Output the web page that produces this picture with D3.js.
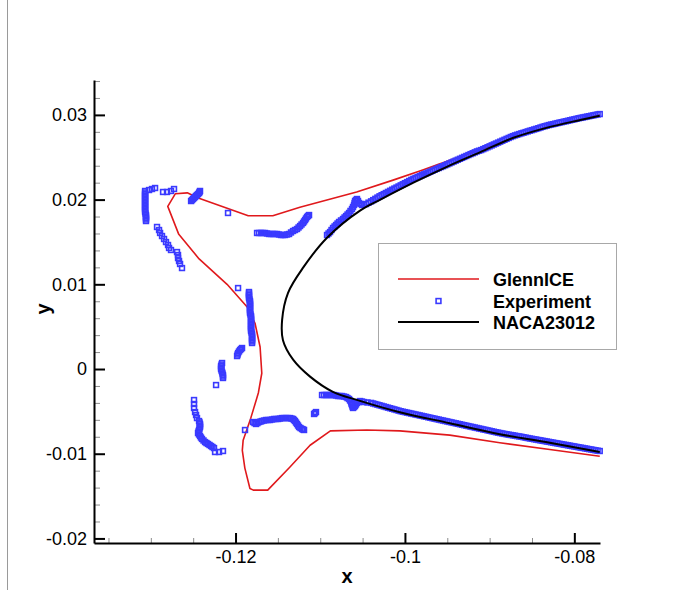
<!DOCTYPE html>
<html><head><meta charset="utf-8">
<script src="https://cdn.jsdelivr.net/npm/d3@7"></script>
<style>
body{margin:0;background:#fff}
svg{display:block}
text{font-family:"Liberation Sans",Arial,Helvetica,sans-serif}
</style>
</head><body>
<svg id="chart" width="674" height="605"></svg>
<script>
// ---------- data ----------
const xMajorTicks = [-0.12, -0.1, -0.08];
const xTickLabels = ["-0.12", "-0.1", "-0.08"];
const xMinorTicks = [-0.135, -0.13, -0.125, -0.115, -0.11, -0.105, -0.095, -0.09, -0.085];
const yMajorTicks = [-0.02, -0.01, 0, 0.01, 0.02, 0.03];
const yTickLabels = ["-0.02", "-0.01", "0", "0.01", "0.02", "0.03"];
const yMinorTicks = [-0.018, -0.016, -0.014, -0.012, -0.008, -0.006, -0.004, -0.002, 0.002, 0.004, 0.006, 0.008,
  0.012, 0.014, 0.016, 0.018, 0.022, 0.024, 0.026, 0.028, 0.032, 0.034];
const seriesNames = ["GlennICE", "Experiment", "NACA23012"];

const glennICE = [[-0.0770,0.0300],[-0.0832,0.0286],[-0.0911,0.0259],[-0.0962,0.0241],[-0.0979,0.0235],[-0.1014,0.0223],
  [-0.1057,0.0209],[-0.1124,0.0191],[-0.1156,0.0181],[-0.1185,0.0181],[-0.1244,0.0202],[-0.1257,0.0208],[-0.1271,0.0207],
  [-0.1280,0.0192],[-0.1267,0.0159],[-0.1243,0.0130],[-0.1210,0.0100],[-0.1186,0.0073],[-0.1177,0.0054],[-0.1171,0.0026],
  [-0.1169,-0.0005],[-0.1173,-0.0028],[-0.1182,-0.0058],[-0.1191,-0.0084],[-0.1192,-0.0096],[-0.1189,-0.0117],
  [-0.1183,-0.0141],[-0.1179,-0.0143],[-0.1162,-0.0143],[-0.1136,-0.0116],[-0.1112,-0.0090],[-0.1088,-0.0073],
  [-0.1045,-0.0072],[-0.1006,-0.0073],[-0.0947,-0.0078],[-0.0888,-0.0087],[-0.0829,-0.0095],[-0.0770,-0.0103]];

const naca23012 = [[-0.0770,0.0299],[-0.0793,0.0294],[-0.0832,0.0285],[-0.0872,0.0273],[-0.0911,0.0256],[-0.0950,0.0239],
  [-0.0990,0.0220],[-0.1029,0.0200],[-0.1053,0.0187],[-0.1092,0.0155],[-0.1120,0.0120],[-0.1138,0.0090],[-0.1145,0.0058],
  [-0.1144,0.0034],[-0.1132,0.0011],[-0.1112,-0.0009],[-0.1085,-0.0027],[-0.1055,-0.0037],[-0.1006,-0.0051],
  [-0.0947,-0.0064],[-0.0888,-0.0077],[-0.0829,-0.0087],[-0.0770,-0.0098]];

const experiment = [
  // upper-left horn
  [-0.13068,0.02102],[-0.13068,0.02066],[-0.13068,0.02031],[-0.13068,0.01995],[-0.13068,0.0196],[-0.13068,0.01924],
  [-0.13068,0.01889],[-0.13068,0.01854],[-0.13057,0.01818],[-0.13057,0.01783],[-0.13057,0.01747],
  [-0.13068,0.02084],[-0.13068,0.02049],[-0.13068,0.02013],[-0.13068,0.01978],[-0.13068,0.01942],[-0.13068,0.01907],
  [-0.13068,0.01872],[-0.13063,0.01836],[-0.13057,0.018],[-0.13057,0.01765],
  [-0.13021,0.02113],[-0.12986,0.02125],[-0.1295,0.02137],[-0.12856,0.0209],[-0.12809,0.0209],[-0.12762,0.02102],[-0.12726,0.02125],
  [-0.12927,0.01677],[-0.12903,0.01641],[-0.12891,0.01606],[-0.12868,0.0157],[-0.12844,0.01535],[-0.12821,0.01499],
  [-0.12797,0.01464],[-0.12785,0.01429],[-0.12762,0.01405],
  [-0.12691,0.01381],[-0.12679,0.01346],[-0.12679,0.0131],[-0.12667,0.01275],[-0.12655,0.0124],[-0.12632,0.01192],
  [-0.12525,0.01983],[-0.12502,0.02007],[-0.12478,0.02031],[-0.12455,0.02054],[-0.12431,0.02078],[-0.12419,0.02102],
  [-0.12514,0.01995],[-0.1249,0.02019],[-0.12467,0.02043],[-0.12443,0.02066],[-0.12425,0.0209],
  [-0.12089,0.01842],
  // upper middle band
  [-0.11746,0.01606],[-0.11699,0.01606],[-0.11652,0.01606],[-0.11604,0.01594],[-0.11557,0.01594],[-0.1151,0.01594],
  [-0.11463,0.01582],[-0.11416,0.01582],[-0.11368,0.01594],[-0.11321,0.01629],[-0.11274,0.01653],[-0.11238,0.01688],
  [-0.11203,0.01724],[-0.11179,0.01759],[-0.11156,0.01795],[-0.11132,0.01818],
  [-0.11723,0.01606],[-0.11676,0.01606],[-0.11628,0.016],[-0.11581,0.01594],[-0.11534,0.01594],[-0.11487,0.01588],
  [-0.1144,0.01582],[-0.11392,0.01588],[-0.11345,0.01612],[-0.11298,0.01641],[-0.11256,0.01671],[-0.11221,0.01706],
  [-0.11191,0.01742],[-0.11168,0.01777],[-0.11144,0.01807],
  // upper surface
  [-0.1092,0.01582],[-0.10884,0.01617],[-0.10849,0.01665],[-0.10813,0.017],[-0.10778,0.01736],[-0.10731,0.01771],
  [-0.10695,0.01806],[-0.1066,0.01842],[-0.10625,0.01889],[-0.10601,0.01936],[-0.10589,0.01983],[-0.10566,0.02007],
  [-0.10542,0.0196],[-0.10506,0.01936],[-0.10459,0.01948],
  [-0.10902,0.016],[-0.10867,0.01641],[-0.10831,0.01683],[-0.10796,0.01718],[-0.10755,0.01754],[-0.10713,0.01789],
  [-0.10678,0.01824],[-0.10643,0.01866],[-0.10613,0.01913],[-0.10595,0.0196],[-0.10578,0.01995],[-0.10554,0.01984],
  [-0.10524,0.01948],[-0.10483,0.01942],[-0.1043,0.01964],
  [-0.1040,0.01979],[-0.1035,0.02009],[-0.1030,0.02039],[-0.1025,0.02065],[-0.1020,0.02091],[-0.1015,0.02117],
  [-0.1010,0.02142],[-0.1005,0.02168],[-0.1000,0.02194],[-0.0995,0.02220],[-0.0990,0.02245],[-0.0985,0.02266],
  [-0.0980,0.02288],[-0.0975,0.02309],[-0.0970,0.02330],[-0.0965,0.02352],[-0.0960,0.02373],[-0.0955,0.02394],
  [-0.0950,0.02416],[-0.0945,0.02438],[-0.0940,0.02460],[-0.0935,0.02482],[-0.0930,0.02504],[-0.0925,0.02526],
  [-0.0920,0.02547],[-0.0915,0.02569],[-0.0910,0.02585],[-0.0905,0.02607],[-0.0900,0.02629],[-0.0895,0.02651],
  [-0.0890,0.02673],[-0.0885,0.02695],[-0.0880,0.02717],[-0.0875,0.02739],[-0.0870,0.02758],[-0.0865,0.02774],
  [-0.0860,0.02789],[-0.0855,0.02805],[-0.0850,0.02820],[-0.0845,0.02835],[-0.0840,0.02851],[-0.0835,0.02866],
  [-0.0830,0.02880],[-0.0825,0.02891],[-0.0820,0.02903],[-0.0815,0.02914],[-0.0810,0.02925],[-0.0805,0.02937],
  [-0.0800,0.02948],[-0.0795,0.02960],[-0.0790,0.02970],[-0.0785,0.02980],[-0.0780,0.02990],[-0.0775,0.03000],[-0.0770,0.03010],
  [-0.10375,0.01994],[-0.10325,0.02024],[-0.10275,0.02052],[-0.10225,0.02078],[-0.10175,0.02104],[-0.10125,0.0213],
  [-0.10075,0.02155],[-0.10025,0.02181],[-0.09975,0.02207],[-0.09925,0.02233],[-0.09875,0.02256],[-0.09825,0.02277],
  [-0.09775,0.02299],[-0.09725,0.0232],[-0.09675,0.02341],[-0.09625,0.02363],[-0.09575,0.02384],[-0.09525,0.02405],
  [-0.09475,0.02427],[-0.09425,0.02449],[-0.09375,0.02471],[-0.09325,0.02493],[-0.09275,0.02515],[-0.09225,0.02537],
  [-0.09175,0.02558],[-0.09125,0.02577],[-0.09075,0.02596],[-0.09025,0.02618],[-0.08975,0.0264],[-0.08925,0.02662],
  [-0.08875,0.02684],[-0.08825,0.02706],[-0.08775,0.02728],[-0.08725,0.02749],[-0.08675,0.02766],[-0.08625,0.02782],
  [-0.08575,0.02797],[-0.08525,0.02813],[-0.08475,0.02828],[-0.08425,0.02843],[-0.08375,0.02859],[-0.08325,0.02873],
  [-0.08275,0.02886],[-0.08225,0.02897],[-0.08175,0.02909],[-0.08125,0.0292],[-0.08075,0.02931],[-0.08025,0.02943],
  [-0.07975,0.02954],[-0.07925,0.02965],[-0.07875,0.02975],[-0.07825,0.02985],[-0.07775,0.02995],[-0.07725,0.03005],
  // middle left
  [-0.1197,0.00956],
  [-0.11841,0.00909],[-0.11841,0.00874],[-0.11841,0.00838],[-0.11829,0.00803],[-0.11829,0.00767],[-0.11829,0.00732],
  [-0.11829,0.00697],[-0.11829,0.00661],[-0.11817,0.00626],[-0.11817,0.0059],[-0.11817,0.00555],[-0.11817,0.00519],
  [-0.11817,0.00484],[-0.11817,0.00449],[-0.11805,0.00413],[-0.11805,0.00378],[-0.11805,0.00342],[-0.11805,0.00307],
  [-0.11841,0.00892],[-0.11841,0.00856],[-0.11835,0.00821],[-0.11829,0.00785],[-0.11829,0.0075],[-0.11829,0.00715],
  [-0.11829,0.00679],[-0.11823,0.00644],[-0.11817,0.00608],[-0.11817,0.00573],[-0.11817,0.00537],[-0.11817,0.00502],
  [-0.11817,0.00467],[-0.11811,0.00431],[-0.11805,0.00396],[-0.11805,0.0036],[-0.11805,0.00325],
  [-0.11923,0.00248],[-0.11947,0.00224],[-0.1197,0.00189],[-0.11982,0.00153],
  [-0.11935,0.00236],[-0.11959,0.00207],[-0.11976,0.00171],
  [-0.12159,0.00071],[-0.12171,0.00035],[-0.12171,0],[-0.12159,-0.00035],[-0.12148,-0.00071],[-0.12148,-0.00106],
  [-0.12165,0.00053],[-0.12171,0.00018],[-0.12165,-0.00018],[-0.12154,-0.00053],[-0.12148,-0.00089],
  [-0.1223,-0.00189],
  // lower-left horn
  [-0.1249,-0.00366],[-0.1249,-0.00413],[-0.1249,-0.0046],[-0.12478,-0.00508],[-0.12466,-0.00543],[-0.12455,-0.00579],
  [-0.12431,-0.00614],[-0.12419,-0.00649],[-0.12419,-0.00685],[-0.12431,-0.0072],[-0.12443,-0.00756],[-0.12419,-0.00791],
  [-0.12396,-0.00826],[-0.1236,-0.00862],[-0.12325,-0.00885],[-0.12289,-0.00909],[-0.12254,-0.00933],[-0.12242,-0.0098],
  [-0.12195,-0.0098],[-0.12148,-0.00968],
  [-0.12425,-0.00631],[-0.12419,-0.00667],[-0.12425,-0.00702],[-0.12437,-0.00738],[-0.12431,-0.00773],[-0.12408,-0.00809],
  [-0.12378,-0.00844],[-0.12343,-0.00874],[-0.12307,-0.00897],[-0.12272,-0.00921],
  [-0.11888,-0.0072],
  // lower middle band
  [-0.11793,-0.00626],[-0.11758,-0.00649],[-0.11723,-0.00626],[-0.11687,-0.00614],[-0.1164,-0.00602],[-0.11593,-0.00602],
  [-0.11545,-0.0059],[-0.11498,-0.0059],[-0.11451,-0.00579],[-0.11404,-0.00579],[-0.11357,-0.00579],[-0.11321,-0.0059],
  [-0.11298,-0.00614],[-0.11274,-0.00649],[-0.1125,-0.00685],[-0.11215,-0.00708],[-0.11191,-0.0072],
  [-0.11776,-0.00638],[-0.11741,-0.00638],[-0.11705,-0.0062],[-0.11664,-0.00608],[-0.11617,-0.00602],[-0.11569,-0.00596],
  [-0.11522,-0.0059],[-0.11475,-0.00585],[-0.11428,-0.00579],[-0.11381,-0.00579],[-0.11339,-0.00585],[-0.1131,-0.00602],
  [-0.11286,-0.00632],[-0.11262,-0.00667],[-0.11233,-0.00697],[-0.11203,-0.00714],
  [-0.11073,-0.00531],[-0.1105,-0.00508],[-0.11062,-0.0052],
  // lower surface
  [-0.10979,-0.00307],[-0.10932,-0.00307],[-0.10884,-0.00307],[-0.10837,-0.00307],[-0.1079,-0.00319],[-0.10743,-0.00319],
  [-0.10695,-0.00331],[-0.1066,-0.00354],[-0.10636,-0.0039],[-0.10625,-0.00425],[-0.10613,-0.0046],[-0.10589,-0.00437],
  [-0.10566,-0.00401],[-0.1053,-0.00378],[-0.10483,-0.0039],
  [-0.10956,-0.00307],[-0.10908,-0.00307],[-0.10861,-0.00307],[-0.10814,-0.00313],[-0.10767,-0.00319],[-0.10719,-0.00325],
  [-0.10678,-0.00343],[-0.10648,-0.00372],[-0.10631,-0.00408],[-0.10619,-0.00443],[-0.10601,-0.00449],[-0.10578,-0.00419],
  [-0.10548,-0.0039],[-0.10507,-0.00384],[-0.10442,-0.00395],
  [-0.1040,-0.00400],[-0.1035,-0.00414],[-0.1030,-0.00428],[-0.1025,-0.00442],[-0.1020,-0.00456],[-0.1015,-0.00470],
  [-0.1010,-0.00484],[-0.1005,-0.00498],[-0.1000,-0.00509],[-0.0995,-0.00520],[-0.0990,-0.00531],[-0.0985,-0.00542],
  [-0.0980,-0.00553],[-0.0975,-0.00564],[-0.0970,-0.00575],[-0.0965,-0.00586],[-0.0960,-0.00597],[-0.0955,-0.00608],
  [-0.0950,-0.00619],[-0.0945,-0.00630],[-0.0940,-0.00641],[-0.0935,-0.00652],[-0.0930,-0.00663],[-0.0925,-0.00674],
  [-0.0920,-0.00685],[-0.0915,-0.00696],[-0.0910,-0.00707],[-0.0905,-0.00718],[-0.0900,-0.00729],[-0.0895,-0.00740],
  [-0.0890,-0.00751],[-0.0885,-0.00761],[-0.0880,-0.00770],[-0.0875,-0.00779],[-0.0870,-0.00787],[-0.0865,-0.00796],
  [-0.0860,-0.00805],[-0.0855,-0.00815],[-0.0850,-0.00824],[-0.0845,-0.00833],[-0.0840,-0.00842],[-0.0835,-0.00851],
  [-0.0830,-0.00860],[-0.0825,-0.00869],[-0.0820,-0.00878],[-0.0815,-0.00887],[-0.0810,-0.00896],[-0.0805,-0.00905],
  [-0.0800,-0.00914],[-0.0795,-0.00923],[-0.0790,-0.00932],[-0.0785,-0.00941],[-0.0780,-0.00950],[-0.0775,-0.00959],[-0.0770,-0.00968],
  [-0.10375,-0.00407],[-0.10325,-0.00421],[-0.10275,-0.00435],[-0.10225,-0.00449],[-0.10175,-0.00463],[-0.10125,-0.00477],
  [-0.10075,-0.00491],[-0.10025,-0.00504],[-0.09975,-0.00515],[-0.09925,-0.00526],[-0.09875,-0.00537],[-0.09825,-0.00548],
  [-0.09775,-0.00559],[-0.09725,-0.0057],[-0.09675,-0.00581],[-0.09625,-0.00592],[-0.09575,-0.00603],[-0.09525,-0.00614],
  [-0.09475,-0.00625],[-0.09425,-0.00636],[-0.09375,-0.00647],[-0.09325,-0.00658],[-0.09275,-0.00669],[-0.09225,-0.0068],
  [-0.09175,-0.00691],[-0.09125,-0.00702],[-0.09075,-0.00713],[-0.09025,-0.00724],[-0.08975,-0.00735],[-0.08925,-0.00746],
  [-0.08875,-0.00756],[-0.08825,-0.00766],[-0.08775,-0.00775],[-0.08725,-0.00783],[-0.08675,-0.00792],[-0.08625,-0.008],
  [-0.08575,-0.0081],[-0.08525,-0.0082],[-0.08475,-0.00829],[-0.08425,-0.00838],[-0.08375,-0.00847],[-0.08325,-0.00856],
  [-0.08275,-0.00865],[-0.08225,-0.00874],[-0.08175,-0.00883],[-0.08125,-0.00892],[-0.08075,-0.00901],[-0.08025,-0.0091],
  [-0.07975,-0.00919],[-0.07925,-0.00928],[-0.07875,-0.00937],[-0.07825,-0.00946],[-0.07775,-0.00955],[-0.07725,-0.00964]
];

// ---------- drawing ----------
const svg = d3.select("#chart");
const RED = "#e0191c", BLUE = "#3a3aff";

const x = d3.scaleLinear().domain([-0.13671, -0.07697]).range([94, 600]);
const y = d3.scaleLinear().domain([-0.02054, 0.03412]).range([543, 80]);

// page border line
svg.append("line").attr("x1", 7.5).attr("x2", 7.5).attr("y1", 0).attr("y2", 590)
  .attr("stroke", "#9a9a9a").attr("stroke-width", 1);

// minor ticks
const gxMinor = svg.append("g").attr("transform", "translate(0,543)")
  .call(d3.axisBottom(x).tickValues(xMinorTicks).tickSize(-5).tickSizeOuter(0).tickFormat(""));
gxMinor.select(".domain").remove();
gxMinor.selectAll("line").attr("stroke", "#8c8c8c").attr("stroke-width", 1);

const gyMinor = svg.append("g").attr("transform", "translate(94,0)")
  .call(d3.axisLeft(y).tickValues(yMinorTicks).tickSize(-6).tickSizeOuter(0).tickFormat(""));
gyMinor.select(".domain").remove();
gyMinor.selectAll("line").attr("stroke", "#8c8c8c").attr("stroke-width", 1);

// major axes
const gx = svg.append("g").attr("transform", "translate(0,543)")
  .call(d3.axisBottom(x).tickValues(xMajorTicks).tickSize(-10).tickSizeOuter(0).tickPadding(7)
    .tickFormat((d, i) => xTickLabels[i]));
gx.select(".domain").attr("stroke", "#000").attr("stroke-width", 2);
gx.selectAll(".tick line").attr("stroke", "#000").attr("stroke-width", 2);
gx.selectAll("text").attr("font-size", 18).attr("fill", "#000").style("font-family", "'Liberation Sans', Arial, sans-serif");

const gy = svg.append("g").attr("transform", "translate(94,0)")
  .call(d3.axisLeft(y).tickValues(yMajorTicks).tickSize(-11).tickSizeOuter(0).tickPadding(7)
    .tickFormat((d, i) => yTickLabels[i]));
gy.select(".domain").attr("stroke", "#000").attr("stroke-width", 2);
gy.selectAll(".tick line").attr("stroke", "#000").attr("stroke-width", 2);
gy.selectAll("text").attr("font-size", 18).attr("fill", "#000").style("font-family", "'Liberation Sans', Arial, sans-serif");

// axis titles
svg.append("text").attr("x", 347).attr("y", 583).attr("text-anchor", "middle")
  .attr("font-size", 20).attr("font-weight", "bold").text("x");
svg.append("text").attr("transform", "translate(50,309) rotate(-90)").attr("text-anchor", "middle")
  .attr("font-size", 20).attr("font-weight", "bold").text("y");

// series
const line = d3.line().x(d => x(d[0])).y(d => y(d[1]));
svg.append("path").datum(glennICE).attr("d", line)
  .attr("fill", "none").attr("stroke", RED).attr("stroke-width", 1.6).attr("stroke-linejoin", "round");

svg.append("g").selectAll("rect").data(experiment).join("rect")
  .attr("x", d => x(d[0]) - 2.4).attr("y", d => y(d[1]) - 2.4)
  .attr("width", 4.8).attr("height", 4.8)
  .attr("fill", "none").attr("stroke", BLUE).attr("stroke-width", 1.6);

svg.append("path").datum(naca23012).attr("d", line.curve(d3.curveCatmullRom))
  .attr("fill", "none").attr("stroke", "#000").attr("stroke-width", 2);

// legend
const lg = svg.append("g");
lg.append("rect").attr("x", 378.5).attr("y", 243.5).attr("width", 238).attr("height", 106)
  .attr("fill", "#fff").attr("stroke", "#a8a8a8").attr("stroke-width", 1);
const rowsY = [279, 301, 322];
lg.append("line").attr("x1", 398).attr("x2", 479).attr("y1", rowsY[0]).attr("y2", rowsY[0])
  .attr("stroke", RED).attr("stroke-width", 1.6);
lg.append("rect").attr("x", 438.5 - 2.4).attr("y", rowsY[1] - 2.4).attr("width", 4.8).attr("height", 4.8)
  .attr("fill", "none").attr("stroke", BLUE).attr("stroke-width", 1.6);
lg.append("line").attr("x1", 398).attr("x2", 479).attr("y1", rowsY[2]).attr("y2", rowsY[2])
  .attr("stroke", "#000").attr("stroke-width", 2);
lg.selectAll("text.lab").data(seriesNames).join("text").attr("class", "lab")
  .attr("x", 493).attr("y", (d, i) => rowsY[i] + 6.5)
  .attr("font-size", 18).attr("font-weight", "bold").text(d => d);
</script>
</body></html>
